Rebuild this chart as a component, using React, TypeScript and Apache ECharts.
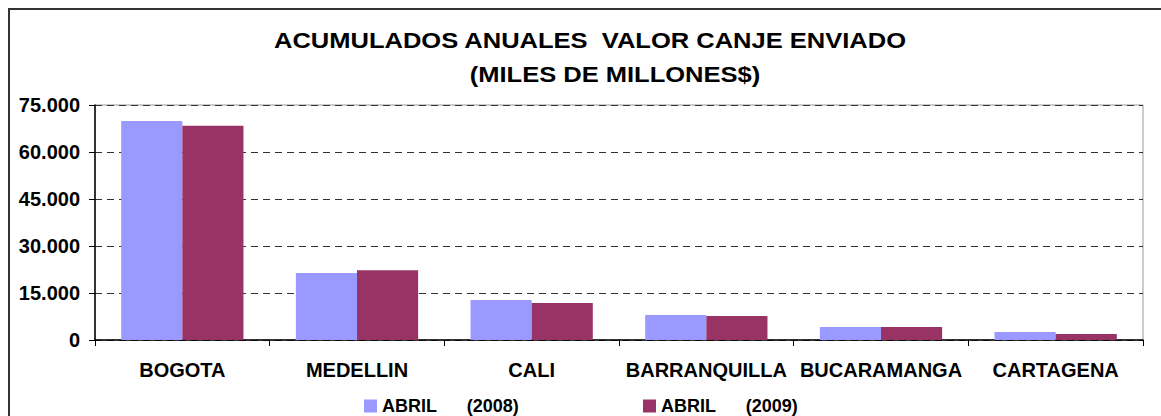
import React, { useEffect, useRef } from "react";
import * as echarts from "echarts";

const categories = ["BOGOTA", "MEDELLIN", "CALI", "BARRANQUILLA", "BUCARAMANGA", "CARTAGENA"];
const abril2008 = [69900, 21400, 12800, 8000, 4150, 2550];
const abril2009 = [68400, 22300, 11800, 7650, 4150, 1900];
const seriesNames = ["ABRIL      (2008)", "ABRIL      (2009)"];
const titleLines = ["ACUMULADOS ANUALES  VALOR CANJE ENVIADO", "(MILES DE MILLONES$)"];

const FONT = "'Liberation Sans', Arial, sans-serif";

export default function App() {
  const ref = useRef<HTMLDivElement>(null);
  useEffect(() => {
    document.body.style.margin = "0";
    const chart = echarts.init(ref.current!, undefined, { renderer: "svg" });
    const legendText = { fontFamily: FONT, fontWeight: "bold", fontSize: 18, color: "#000" };
    chart.setOption({
      animation: false,
      backgroundColor: "#ffffff",
      textStyle: { fontFamily: FONT },
      graphic: [
        {
          type: "rect",
          shape: { x: 9, y: 9, width: 1170, height: 430 },
          style: { fill: "none", stroke: "#333", lineWidth: 2 },
          silent: true,
        },
        {
          type: "text",
          x: 590,
          y: 40,
          scaleX: 1.16,
          style: {
            text: titleLines[0],
            font: `bold 22px ${FONT}`,
            fill: "#000",
            align: "center",
            verticalAlign: "middle",
          },
        },
        {
          type: "text",
          x: 615,
          y: 74,
          scaleX: 1.16,
          style: {
            text: titleLines[1],
            font: `bold 22px ${FONT}`,
            fill: "#000",
            align: "center",
            verticalAlign: "middle",
          },
        },
      ],
      legend: [
        {
          left: 364,
          top: 397,
          padding: 0,
          itemWidth: 13,
          itemHeight: 13,
          icon: "rect",
          data: [seriesNames[0]],
          textStyle: legendText,
        },
        {
          left: 643,
          top: 397,
          padding: 0,
          itemWidth: 13,
          itemHeight: 13,
          icon: "rect",
          data: [seriesNames[1]],
          textStyle: legendText,
        },
      ],
      grid: {
        left: 95,
        right: 18,
        top: 105,
        bottom: 76,
        show: true,
        borderColor: "#999",
        borderWidth: 1,
      },
      xAxis: {
        type: "category",
        data: categories,
        axisLine: { lineStyle: { color: "#000", width: 1.5 } },
        axisTick: { show: true, length: 6, lineStyle: { color: "#000" } },
        axisLabel: {
          fontFamily: FONT,
          fontWeight: "bold",
          fontSize: 20,
          color: "#000",
          margin: 20,
          interval: 0,
        },
      },
      yAxis: {
        type: "value",
        min: 0,
        max: 75000,
        interval: 15000,
        axisLine: { show: true, lineStyle: { color: "#000", width: 1.5 } },
        axisTick: { show: true, length: 6, lineStyle: { color: "#000" } },
        axisLabel: {
          fontFamily: FONT,
          fontWeight: "bold",
          fontSize: 20,
          color: "#000",
          margin: 15,
          formatter: (v: number) => (v === 0 ? "0" : v.toLocaleString("de-DE")),
        },
        splitLine: {
          show: true,
          lineStyle: { color: "#333", type: [7, 5], width: 1 },
        },
      },
      series: [
        {
          name: seriesNames[0],
          type: "bar",
          data: abril2008,
          itemStyle: { color: "#9999FF" },
          barGap: "0%",
          barCategoryGap: "30%",
          z: 3,
        },
        {
          name: seriesNames[1],
          type: "bar",
          data: abril2009,
          itemStyle: { color: "#993366" },
          barGap: "0%",
          barCategoryGap: "30%",
          z: 3,
        },
      ],
    });
    return () => chart.dispose();
  }, []);
  return <div ref={ref} style={{ width: 1161, height: 416 }} />;
}
